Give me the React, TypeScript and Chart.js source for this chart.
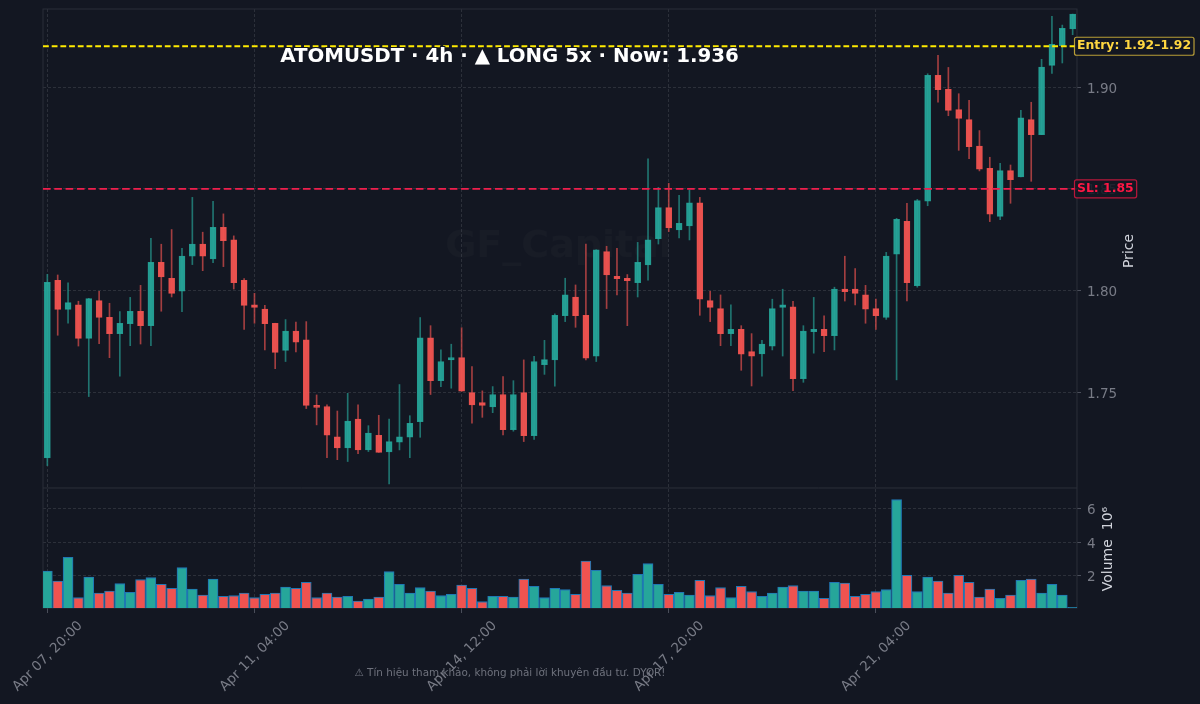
import React, { useEffect, useRef } from 'react';
import Chart from 'chart.js/auto';

const opens = [1.7179,1.8051,1.7908,1.7930,1.7766,1.7951,1.7869,1.7789,1.7838,1.7899,1.7828,1.8139,1.8061,1.7997,1.8169,1.8229,1.8156,1.8311,1.8249,1.8051,1.7931,1.7910,1.7840,1.7707,1.7801,1.7758,1.7436,1.7431,1.7282,1.7228,1.7369,1.7218,1.7290,1.7208,1.7256,1.7280,1.7357,1.7768,1.7558,1.7660,1.7671,1.7499,1.7450,1.7429,1.7490,1.7318,1.7499,1.7288,1.7637,1.7660,1.7877,1.7969,1.7879,1.7678,1.8192,1.8070,1.8061,1.8039,1.8126,1.8255,1.8408,1.8298,1.8318,1.8431,1.7951,1.7912,1.7789,1.7810,1.7701,1.7689,1.7727,1.7918,1.7920,1.7568,1.7799,1.7810,1.7779,1.8008,1.8008,1.7979,1.7912,1.7868,1.8179,1.8341,1.8025,1.8439,1.9057,1.8988,1.8889,1.8840,1.8710,1.8601,1.8365,1.8589,1.8558,1.8840,1.8766,1.9106,1.9203,1.9285];
const highs = [1.8080,1.8077,1.8039,1.7948,1.7962,1.7997,1.7938,1.7897,1.7967,1.8026,1.8257,1.8228,1.8300,1.8208,1.8458,1.8287,1.8439,1.8377,1.8269,1.8059,1.7987,1.7928,1.7840,1.7858,1.7846,1.7848,1.7488,1.7439,1.7409,1.7496,1.7439,1.7337,1.7388,1.7369,1.7539,1.7386,1.7868,1.7828,1.7709,1.7737,1.7818,1.7627,1.7508,1.7529,1.7578,1.7558,1.7660,1.7678,1.7756,1.7886,1.8061,1.8028,1.8229,1.8201,1.8218,1.8208,1.8079,1.8237,1.8647,1.8507,1.8527,1.8468,1.8494,1.8458,1.7997,1.7979,1.7930,1.7828,1.7789,1.7756,1.7958,1.8007,1.7948,1.7828,1.7967,1.7877,1.8017,1.8169,1.8108,1.8026,1.7959,1.8188,1.8355,1.8429,1.8448,1.9065,1.9155,1.9096,1.8967,1.8935,1.8786,1.8655,1.8625,1.8617,1.8885,1.8925,1.9136,1.9347,1.9304,1.9358];
const lows = [1.7141,1.7781,1.7840,1.7728,1.7480,1.7740,1.7671,1.7580,1.7730,1.7738,1.7730,1.7899,1.7969,1.7897,1.8128,1.8098,1.8138,1.8118,1.8008,1.7810,1.7840,1.7709,1.7617,1.7652,1.7699,1.7421,1.7341,1.7180,1.7170,1.7161,1.7200,1.7210,1.7206,1.7051,1.7218,1.7180,1.7280,1.7490,1.7529,1.7521,1.7506,1.7349,1.7378,1.7401,1.7292,1.7310,1.7259,1.7270,1.7589,1.7531,1.7848,1.7820,1.7660,1.7652,1.7912,1.7979,1.7828,1.7969,1.8051,1.8229,1.8290,1.8259,1.8249,1.7879,1.7848,1.7730,1.7730,1.7609,1.7532,1.7580,1.7709,1.7679,1.7509,1.7550,1.7693,1.7701,1.7709,1.7949,1.7930,1.7840,1.7810,1.7859,1.7562,1.7949,1.8017,1.8417,1.8926,1.8859,1.8689,1.8648,1.8588,1.8339,1.8349,1.8429,1.8558,1.8537,1.8766,1.9067,1.9118,1.9257];
const closes = [1.8041,1.7908,1.7941,1.7766,1.7961,1.7868,1.7789,1.7840,1.7899,1.7828,1.8139,1.8067,1.7987,1.8170,1.8229,1.8169,1.8311,1.8246,1.8039,1.7928,1.7918,1.7838,1.7697,1.7801,1.7747,1.7437,1.7427,1.7290,1.7228,1.7359,1.7218,1.7301,1.7206,1.7259,1.7282,1.7349,1.7768,1.7558,1.7652,1.7671,1.7506,1.7439,1.7437,1.7490,1.7318,1.7490,1.7288,1.7652,1.7661,1.7879,1.7980,1.7877,1.7668,1.8200,1.8077,1.8059,1.8049,1.8139,1.8249,1.8408,1.8308,1.8331,1.8431,1.7958,1.7918,1.7789,1.7810,1.7688,1.7678,1.7738,1.7912,1.7931,1.7568,1.7801,1.7810,1.7779,1.8008,1.7995,1.7987,1.7909,1.7877,1.8170,1.8350,1.8039,1.8442,1.9057,1.8987,1.8885,1.8846,1.8707,1.8597,1.8376,1.8589,1.8545,1.8849,1.8766,1.9098,1.9209,1.9288,1.9358];
// millions
const volumes = [2.26,1.66,3.08,0.66,1.9,0.94,1.06,1.5,0.98,1.74,1.86,1.46,1.22,2.46,1.18,0.82,1.78,0.74,0.78,0.94,0.66,0.86,0.94,1.3,1.22,1.58,0.66,0.94,0.7,0.74,0.46,0.58,0.7,2.22,1.46,0.94,1.26,1.06,0.78,0.86,1.42,1.22,0.42,0.74,0.74,0.7,1.78,1.34,0.66,1.22,1.14,0.86,2.86,2.3,1.38,1.1,0.94,2.06,2.7,1.46,0.86,0.98,0.82,1.7,0.78,1.26,0.66,1.34,1.02,0.74,0.94,1.3,1.38,1.06,1.06,0.62,1.58,1.54,0.74,0.86,1.02,1.14,6.54,2.0,1.02,1.9,1.66,0.94,2.0,1.58,0.7,1.18,0.62,0.82,1.7,1.78,0.94,1.46,0.82,0.08];

const xTicks = [0, 20, 40, 60, 80];
const xTickLabels = ['Apr 07, 20:00', 'Apr 11, 04:00', 'Apr 14, 12:00', 'Apr 17, 20:00', 'Apr 21, 04:00'];
const priceTicks = [1.75, 1.8, 1.85, 1.9];
const volumeTicks = [2, 4, 6];

const ENTRY = 1.92;
const STOP = 1.85;
const X_MIN = -0.42;
const X_MAX = 99.42;

const BG = '#131722';
const FRAME = '#2a2e39';
const GRID = 'rgba(54,58,69,0.7)';
const TICK_MARK = '#4a4e5a';
const TICK_TEXT = '#787b86';
const LABEL_TEXT = '#d1d4dc';
const UP = '#26a69a';
const DOWN = '#ef5350';
const FONT = '"DejaVu Sans"';

const isUp = (i: number) => closes[i] >= opens[i];
const idx = opens.map((_, i) => i);

const overlayPlugin = {
  id: 'overlay',
  beforeDatasetsDraw(chart: any) {
    const { ctx, chartArea: a, scales } = chart;
    ctx.save();
    ctx.strokeStyle = FRAME;
    ctx.lineWidth = 1;
    ctx.strokeRect(a.left, a.top, a.right - a.left, a.bottom - a.top);
    ctx.beginPath();
    ctx.moveTo(a.left, scales.y.bottom);
    ctx.lineTo(a.right, scales.y.bottom);
    ctx.stroke();
    ctx.fillStyle = 'rgba(255,255,255,0.02)';
    ctx.font = `bold 38px ${FONT}`;
    ctx.textAlign = 'center';
    ctx.textBaseline = 'middle';
    ctx.fillText('GF_Capital', 558.5, 247);
    ctx.restore();
  },
  afterDraw(chart: any) {
    const { ctx, scales } = chart;
    const tag = (text: string, value: number, color: string, edge: string) => {
      const y = scales.y.getPixelForValue(value);
      ctx.font = `bold 12.4px ${FONT}`;
      const w = ctx.measureText(text).width;
      ctx.beginPath();
      ctx.roundRect(1074.5, y - 9, w + 5.5, 18, 2);
      ctx.fillStyle = 'rgba(19,23,34,0.88)';
      ctx.fill();
      ctx.strokeStyle = edge;
      ctx.lineWidth = 1.2;
      ctx.stroke();
      ctx.fillStyle = color;
      ctx.textAlign = 'left';
      ctx.textBaseline = 'middle';
      ctx.fillText(text, 1077, y);
    };
    ctx.save();
    tag('Entry: 1.92–1.92', ENTRY, '#ffd740', 'rgba(255,215,64,0.7)');
    tag('SL: 1.85', STOP, '#ff1744', 'rgba(255,23,68,0.7)');

    ctx.textAlign = 'center';
    ctx.textBaseline = 'middle';
    ctx.font = `bold 19.8px ${FONT}`;
    ctx.lineWidth = 2;
    ctx.strokeStyle = BG;
    ctx.strokeText('ATOMUSDT · 4h · ▲ LONG 5x · Now: 1.936', 509.5, 57);
    ctx.fillStyle = '#ffffff';
    ctx.fillText('ATOMUSDT · 4h · ▲ LONG 5x · Now: 1.936', 509.5, 57);

    ctx.font = `10.4px ${FONT}`;
    ctx.fillStyle = 'rgba(120,123,134,0.9)';
    ctx.fillText('⚠ Tín hiệu tham khảo, không phải lời khuyên đầu tư. DYOR!', 510, 673);

    const vertical = (text: string, x: number, y: number) => {
      ctx.save();
      ctx.translate(x, y);
      ctx.rotate(-Math.PI / 2);
      ctx.font = `14px ${FONT}`;
      ctx.fillStyle = LABEL_TEXT;
      ctx.fillText(text, 0, 0);
      ctx.restore();
    };
    vertical('Price', 1129, 251);
    vertical('Volume  10⁶', 1108, 549);
    ctx.restore();
  },
};

const App: React.FC = () => {
  const canvasRef = useRef<HTMLCanvasElement | null>(null);

  useEffect(() => {
    document.body.style.margin = '0';
    document.body.style.background = BG;
    if (!canvasRef.current) return;

    const tickFont = { family: FONT, size: 13.5 };
    const yGrid = { color: GRID, tickColor: TICK_MARK, tickLength: 4, lineWidth: 1 };
    const yBorder = { display: false, dash: [3, 2] };
    const fitY = (s: any) => { s.width = 123; s.paddingTop = 0; s.paddingBottom = 0; };

    const chart = new Chart(canvasRef.current, {
      type: 'bar',
      data: {
        datasets: [
          {
            type: 'line',
            data: [{ x: X_MIN, y: ENTRY }, { x: X_MAX, y: ENTRY }],
            yAxisID: 'y',
            borderColor: '#ffeb00',
            borderWidth: 1.8,
            borderDash: [5.8, 2.9],
            pointRadius: 0,
            order: 0,
          },
          {
            type: 'line',
            data: [{ x: X_MIN, y: STOP }, { x: X_MAX, y: STOP }],
            yAxisID: 'y',
            borderColor: '#ef1f4d',
            borderWidth: 1.8,
            borderDash: [7.6, 3.7],
            pointRadius: 0,
            order: 0,
          },
          {
            data: idx.map((i) => ({ x: i, y: [opens[i], closes[i]] })),
            yAxisID: 'y',
            grouped: false,
            barThickness: 6,
            minBarLength: 2,
            backgroundColor: idx.map((i) => (isUp(i) ? 'rgba(38,166,154,0.9)' : 'rgba(239,83,80,0.95)')),
            borderColor: idx.map((i) => (isUp(i) ? 'rgba(38,166,154,0.9)' : 'rgba(239,83,80,0.95)')),
            borderWidth: 1,
            borderSkipped: false,
            order: 1,
          },
          {
            data: idx.map((i) => ({ x: i, y: [lows[i], highs[i]] })),
            yAxisID: 'y',
            grouped: false,
            barThickness: 1,
            backgroundColor: idx.map((i) => (isUp(i) ? 'rgba(38,166,154,0.65)' : 'rgba(239,83,80,0.65)')),
            order: 2,
          },
          {
            data: idx.map((i) => ({ x: i, y: volumes[i] })),
            yAxisID: 'yVol',
            grouped: false,
            barThickness: 10,
            backgroundColor: idx.map((i) => (isUp(i) ? UP : DOWN)),
            borderColor: '#1f77b4',
            borderWidth: 1.1,
            borderSkipped: false,
            order: 3,
          },
        ],
      } as any,
      options: {
        responsive: false,
        animation: false,
        layout: { padding: { left: 43, right: 0, top: 9, bottom: 0 } },
        plugins: { legend: { display: false }, tooltip: { enabled: false } },
        scales: {
          x: {
            type: 'linear',
            offset: false,
            min: X_MIN,
            max: X_MAX,
            afterBuildTicks: (s: any) => { s.ticks = xTicks.map((value) => ({ value })); },
            afterFit: (s: any) => { s.height = 96; s.paddingLeft = 0; s.paddingRight = 0; },
            grid: { offset: false, color: GRID, tickColor: TICK_MARK, tickLength: 5, lineWidth: 1 },
            border: { display: false, dash: [3, 2] },
            ticks: {
              autoSkip: false,
              minRotation: 45,
              maxRotation: 45,
              labelOffset: 33,
              padding: 5,
              color: TICK_TEXT,
              font: tickFont,
              callback: (v: any) => xTickLabels[xTicks.indexOf(v)] ?? '',
            },
          },
          y: {
            position: 'right',
            stack: 'panels',
            stackWeight: 479,
            weight: 0,
            min: 1.7031,
            max: 1.9383,
            afterBuildTicks: (s: any) => { s.ticks = priceTicks.map((value) => ({ value })); },
            afterFit: fitY,
            grid: yGrid,
            border: yBorder,
            ticks: { padding: 6, labelOffset: 2, color: TICK_TEXT, font: tickFont, callback: (v: any) => Number(v).toFixed(2) },
          },
          yVol: {
            position: 'right',
            stack: 'panels',
            stackWeight: 120,
            weight: 1,
            min: 0.04,
            max: 7.24,
            afterBuildTicks: (s: any) => { s.ticks = volumeTicks.map((value) => ({ value })); },
            afterFit: fitY,
            grid: yGrid,
            border: yBorder,
            ticks: { padding: 6, labelOffset: 2, color: TICK_TEXT, font: tickFont, callback: (v: any) => String(v) },
          },
        },
      } as any,
      plugins: [overlayPlugin],
    });

    return () => chart.destroy();
  }, []);

  return <canvas ref={canvasRef} width={1200} height={704} style={{ display: 'block', background: BG }} />;
};

export default App;
